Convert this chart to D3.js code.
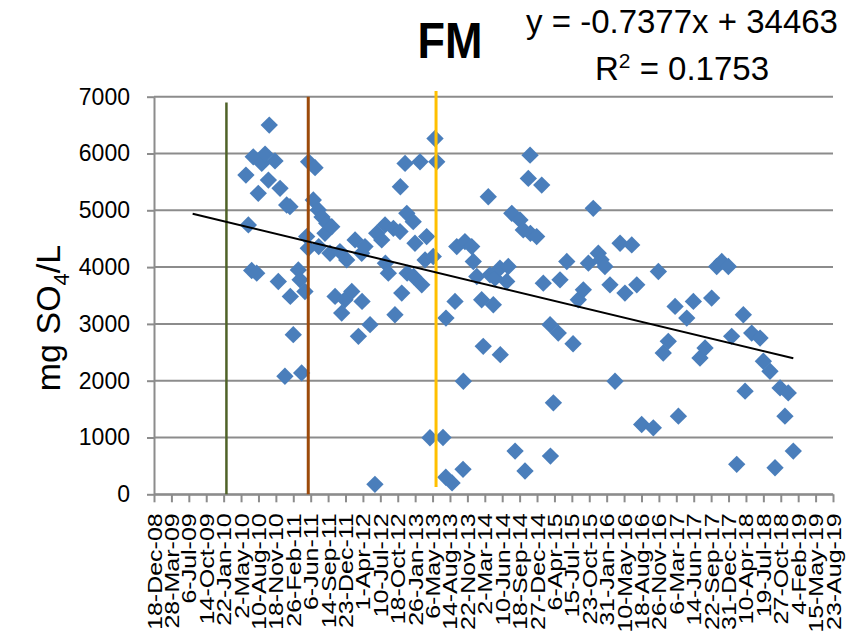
<!DOCTYPE html>
<html>
<head>
<meta charset="utf-8">
<script src="https://cdn.jsdelivr.net/npm/d3@7"></script>
<style>
  body { margin: 0; background: #fff; }
  svg { display: block; }
</style>
</head>
<body>
<div id="chart"></div>
<script>
// sample dates as Excel serials (days since 30-Dec-1899)
const sampleDates = [
  40328, 40342, 40361, 40370, 40390, 40399, 40419, 40438, 40457, 40462,
  40495, 40514, 40524, 40552, 40562, 40581, 40583, 40600, 40629, 40639,
  40648, 40667, 40677, 40686, 40688, 40715, 40725, 40744, 40746, 40765,
  40782, 40792, 40811, 40821, 40840, 40868, 40878, 40897, 40907, 40936,
  40955, 40974, 40993, 40995, 41012, 41041, 41069, 41079, 41108, 41127,
  41129, 41146, 41175, 41184, 41213, 41215, 41223, 41242, 41252, 41254,
  41289, 41291, 41299, 41328, 41338, 41357, 41366, 41385, 41404, 41414,
  41424, 41460, 41477, 41476, 41512, 41529, 41539, 41577, 41575, 41586,
  41625, 41634, 41654, 41682, 41691, 41720, 41730, 41749, 41759, 41787,
  41789, 41826, 41835, 41855, 41874, 41902, 41921, 41931, 41950, 41960,
  41962, 41998, 42027, 42036, 42075, 42077, 42094, 42122, 42132, 42171,
  42207, 42237, 42266, 42295, 42323, 42352, 42368, 42390, 42419, 42448,
  42477, 42505, 42544, 42573, 42601, 42668, 42697, 42725, 42754, 42793,
  42812, 42860, 42898, 42936, 42965, 43003, 43032, 43061, 43099, 43118,
  43147, 43185, 43195, 43233, 43281, 43300, 43338, 43367, 43396, 43424,
  43443, 43472
];
// mg SO4/L
const sulfate = [
  5620, 4742, 3940, 5942, 3893, 5298, 5825, 5990, 5532, 6500,
  5870, 3747, 5386, 2078, 5093, 5064, 3483, 2810, 3951, 3776,
  2137, 3571, 4537, 4332, 5854, 5181, 5750, 5005, 4361, 4880,
  4595, 4771, 4244, 4711, 3483, 4273, 3190, 3425, 4127, 3571,
  4478, 2781, 4244, 3395, 4361, 2986, 176, 4595, 4478, 4742,
  4069, 3893, 4683, 3161, 4625, 5415, 3542, 5825, 4947, 3893,
  4800, 3834, 4420, 5854, 3688, 4127, 4537, 995, 4186, 6264,
  5854, 1000, 3103, 300, 200, 3395, 4361, 1990, 439, 4449,
  4361, 4098, 3834, 3425, 2605, 5239, 3864, 3337, 3805, 3981,
  2459, 3747, 4010, 4947, 761, 4830, 4654, 410, 5561, 5971,
  4595, 4537, 5444, 3717, 2986, 673, 1610, 2839, 3776, 4098,
  2650, 3425, 3600, 4069, 5034, 4244, 4130, 4010, 3688, 1990,
  4420, 3542, 4390, 3688, 1229, 1171, 3922, 2488, 2693, 3307,
  1376, 3103, 3395, 2400, 2576, 3454, 4010, 4098, 4010, 2781,
  527, 3161, 1815, 2839, 2751, 2342, 2166, 468, 1873, 1376,
  1785, 761
];

// vertical period markers
const markerDates = [40216, 40686, 41420];
const markerTops = [6900, 7000, 7100];
const markerBottoms = [0, 0, 130];

// linear trend as printed on the chart
const trendSlope = -0.7377;
const trendIntercept = 34463;
const trendFrom = 40022;
const trendTo = 43472;

const yTicks = [0, 1000, 2000, 3000, 4000, 5000, 6000, 7000];
const xTicks = d3.range(39800, 43701, 100);

const markerColors = ['#4F6228', '#9C4A0A', '#FFC000'];
const gridColor = '#8C8C8C';
const FONT = '"Liberation Sans", Arial, sans-serif';

const W = 856, H = 642;
const x = d3.scaleLinear().domain([39800, 43700]).range([154, 833]);
const y = d3.scaleLinear().domain([0, 7000]).range([494.3, 96.7]);

const excelEpoch = Date.UTC(1899, 11, 30);
const fmtDate = d3.utcFormat('%-d-%b-%y');
const serialLabel = s => fmtDate(new Date(excelEpoch + s * 86400000));

const svg = d3.select('#chart').append('svg')
  .attr('width', W).attr('height', H)
  .style('font-family', FONT);

// gridlines
svg.append('g').selectAll('line').data(yTicks).join('line')
  .attr('x1', x.range()[0]).attr('x2', x.range()[1])
  .attr('y1', d => y(d)).attr('y2', d => y(d))
  .attr('stroke', gridColor).attr('stroke-width', 2);

// y axis
const yAxis = svg.append('g')
  .attr('transform', `translate(${x.range()[0]},0)`)
  .call(d3.axisLeft(y).tickValues(yTicks).tickFormat(d3.format('d'))
    .tickSize(7).tickSizeOuter(0).tickPadding(17));
yAxis.select('.domain').attr('stroke', gridColor).attr('stroke-width', 2);
yAxis.selectAll('.tick line').attr('stroke', gridColor).attr('stroke-width', 2);
yAxis.selectAll('.tick text').style('font-size', '23px').attr('fill', '#000');

// x axis
const xAxis = svg.append('g')
  .attr('transform', `translate(0,${y(0)})`)
  .call(d3.axisBottom(x).tickValues(xTicks).tickSize(8).tickSizeOuter(0).tickFormat(serialLabel));
xAxis.select('.domain').attr('stroke', gridColor).attr('stroke-width', 2);
xAxis.selectAll('.tick line').attr('stroke', gridColor).attr('stroke-width', 2);
xAxis.selectAll('.tick text')
  .style('font-size', '20px').attr('fill', '#000')
  .attr('text-anchor', 'end')
  .attr('y', 0).attr('dy', '0.35em')
  .attr('transform', 'translate(0,19) rotate(-90) scale(1.25,1)');

// data points (diamonds)
const diamond = d3.symbol().type(d3.symbolSquare).size(150);
svg.append('g').selectAll('path').data(sampleDates).join('path')
  .attr('d', diamond)
  .attr('fill', '#4A7EBB')
  .attr('transform', (d, i) => `translate(${x(d)},${y(sulfate[i])}) rotate(45)`);

// period markers
svg.append('g').selectAll('line').data(markerDates).join('line')
  .attr('x1', d => x(d)).attr('x2', d => x(d))
  .attr('y1', (d, i) => y(markerTops[i])).attr('y2', (d, i) => y(markerBottoms[i]))
  .attr('stroke', (d, i) => markerColors[i])
  .attr('stroke-width', (d, i) => i === 0 ? 2.5 : 3);

// trend line
svg.append('line')
  .attr('x1', x(trendFrom)).attr('y1', y(trendSlope * trendFrom + trendIntercept))
  .attr('x2', x(trendTo)).attr('y2', y(trendSlope * trendTo + trendIntercept))
  .attr('stroke', '#000').attr('stroke-width', 2);

// title and equation
svg.append('text')
  .attr('transform', 'translate(450,58) scale(0.9,1)')
  .attr('text-anchor', 'middle')
  .style('font-size', '50px').style('font-weight', 'bold')
  .text('FM');

const eq = svg.append('g').attr('text-anchor', 'middle').style('font-size', '33px');
eq.append('text').attr('x', 682).attr('y', 33).text('y = -0.7377x + 34463');
const r2 = eq.append('text').attr('x', 682).attr('y', 80);
r2.append('tspan').text('R');
r2.append('tspan').attr('dy', -12).style('font-size', '21px').text('2');
r2.append('tspan').attr('dy', 12).text(' = 0.1753');

// y axis title
const yt = svg.append('text')
  .attr('transform', 'translate(60,318) rotate(-90)')
  .attr('text-anchor', 'middle')
  .style('font-size', '34px');
yt.append('tspan').text('mg SO');
yt.append('tspan').attr('dy', 9).style('font-size', '22px').text('4');
yt.append('tspan').attr('dy', -9).text('/L');
</script>
</body>
</html>
